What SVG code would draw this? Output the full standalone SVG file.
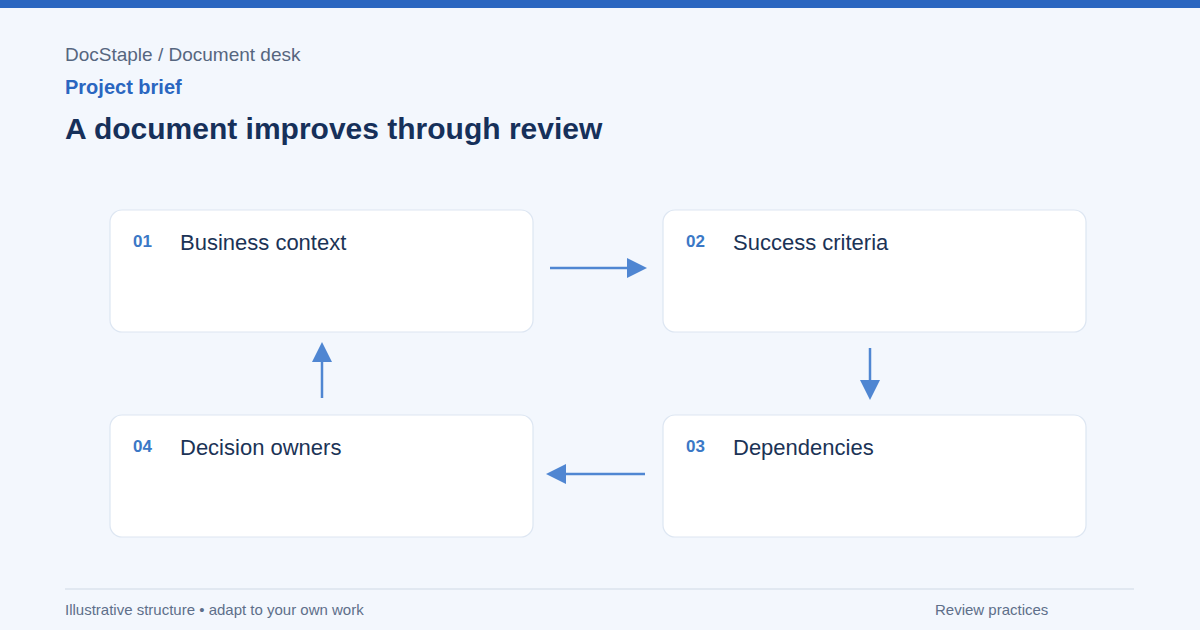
<svg xmlns="http://www.w3.org/2000/svg" width="1200" height="630" viewBox="0 0 1200 630">
<defs>
<style>
.bg{fill:#f3f7fd}
.box{fill:#ffffff;stroke:#dde6f2;stroke-width:1.2}
.num{font-family:"Liberation Sans",Arial,sans-serif;font-size:17px;font-weight:bold;fill:#3b78c6}
.lbl{font-family:"Liberation Sans",Arial,sans-serif;font-size:22px;fill:#1b3356}
.edge{stroke:#4f86d2;stroke-width:2.5;fill:none}
.head{fill:#4f86d2}
.foot{font-family:"Liberation Sans",Arial,sans-serif;font-size:15px;fill:#5e6f8a}
</style>
</defs>
<rect class="bg" x="0" y="0" width="1200" height="630"/>
<rect x="0" y="0" width="1200" height="8" fill="#2a66c0"/>
<text x="65" y="61" font-family="Liberation Sans, Arial, sans-serif" font-size="19" fill="#56667f">DocStaple / Document desk</text>
<text x="65" y="94" font-family="Liberation Sans, Arial, sans-serif" font-size="20" font-weight="bold" fill="#2a66c0">Project brief</text>
<text x="65" y="139" font-family="Liberation Sans, Arial, sans-serif" font-size="30" font-weight="bold" fill="#16305a">A document improves through review</text>

<g id="connectors">
<line class="edge" x1="550" y1="268" x2="630" y2="268"/>
<polygon class="head" points="627,258 647,268 627,278"/>
<line class="edge" x1="870" y1="348" x2="870" y2="384"/>
<polygon class="head" points="860,380 870,400 880,380"/>
<line class="edge" x1="645" y1="474" x2="563" y2="474"/>
<polygon class="head" points="566,464 546,474 566,484"/>
<line class="edge" x1="322" y1="398" x2="322" y2="359"/>
<polygon class="head" points="312,362 322,342 332,362"/>
</g>

<g id="node1">
<rect class="box" x="110" y="210" width="423" height="122" rx="12"/>
<text class="num" x="133" y="247">01</text>
<text class="lbl" x="180" y="250">Business context</text>
</g>
<g id="node2">
<rect class="box" x="663" y="210" width="423" height="122" rx="12"/>
<text class="num" x="686" y="247">02</text>
<text class="lbl" x="733" y="250">Success criteria</text>
</g>
<g id="node3">
<rect class="box" x="663" y="415" width="423" height="122" rx="12"/>
<text class="num" x="686" y="452">03</text>
<text class="lbl" x="733" y="455">Dependencies</text>
</g>
<g id="node4">
<rect class="box" x="110" y="415" width="423" height="122" rx="12"/>
<text class="num" x="133" y="452">04</text>
<text class="lbl" x="180" y="455">Decision owners</text>
</g>

<line x1="65" y1="589" x2="1134" y2="589" stroke="#e1e8f1" stroke-width="2"/>
<text class="foot" x="65" y="615">Illustrative structure • adapt to your own work</text>
<text class="foot" x="935" y="615">Review practices</text>
</svg>
